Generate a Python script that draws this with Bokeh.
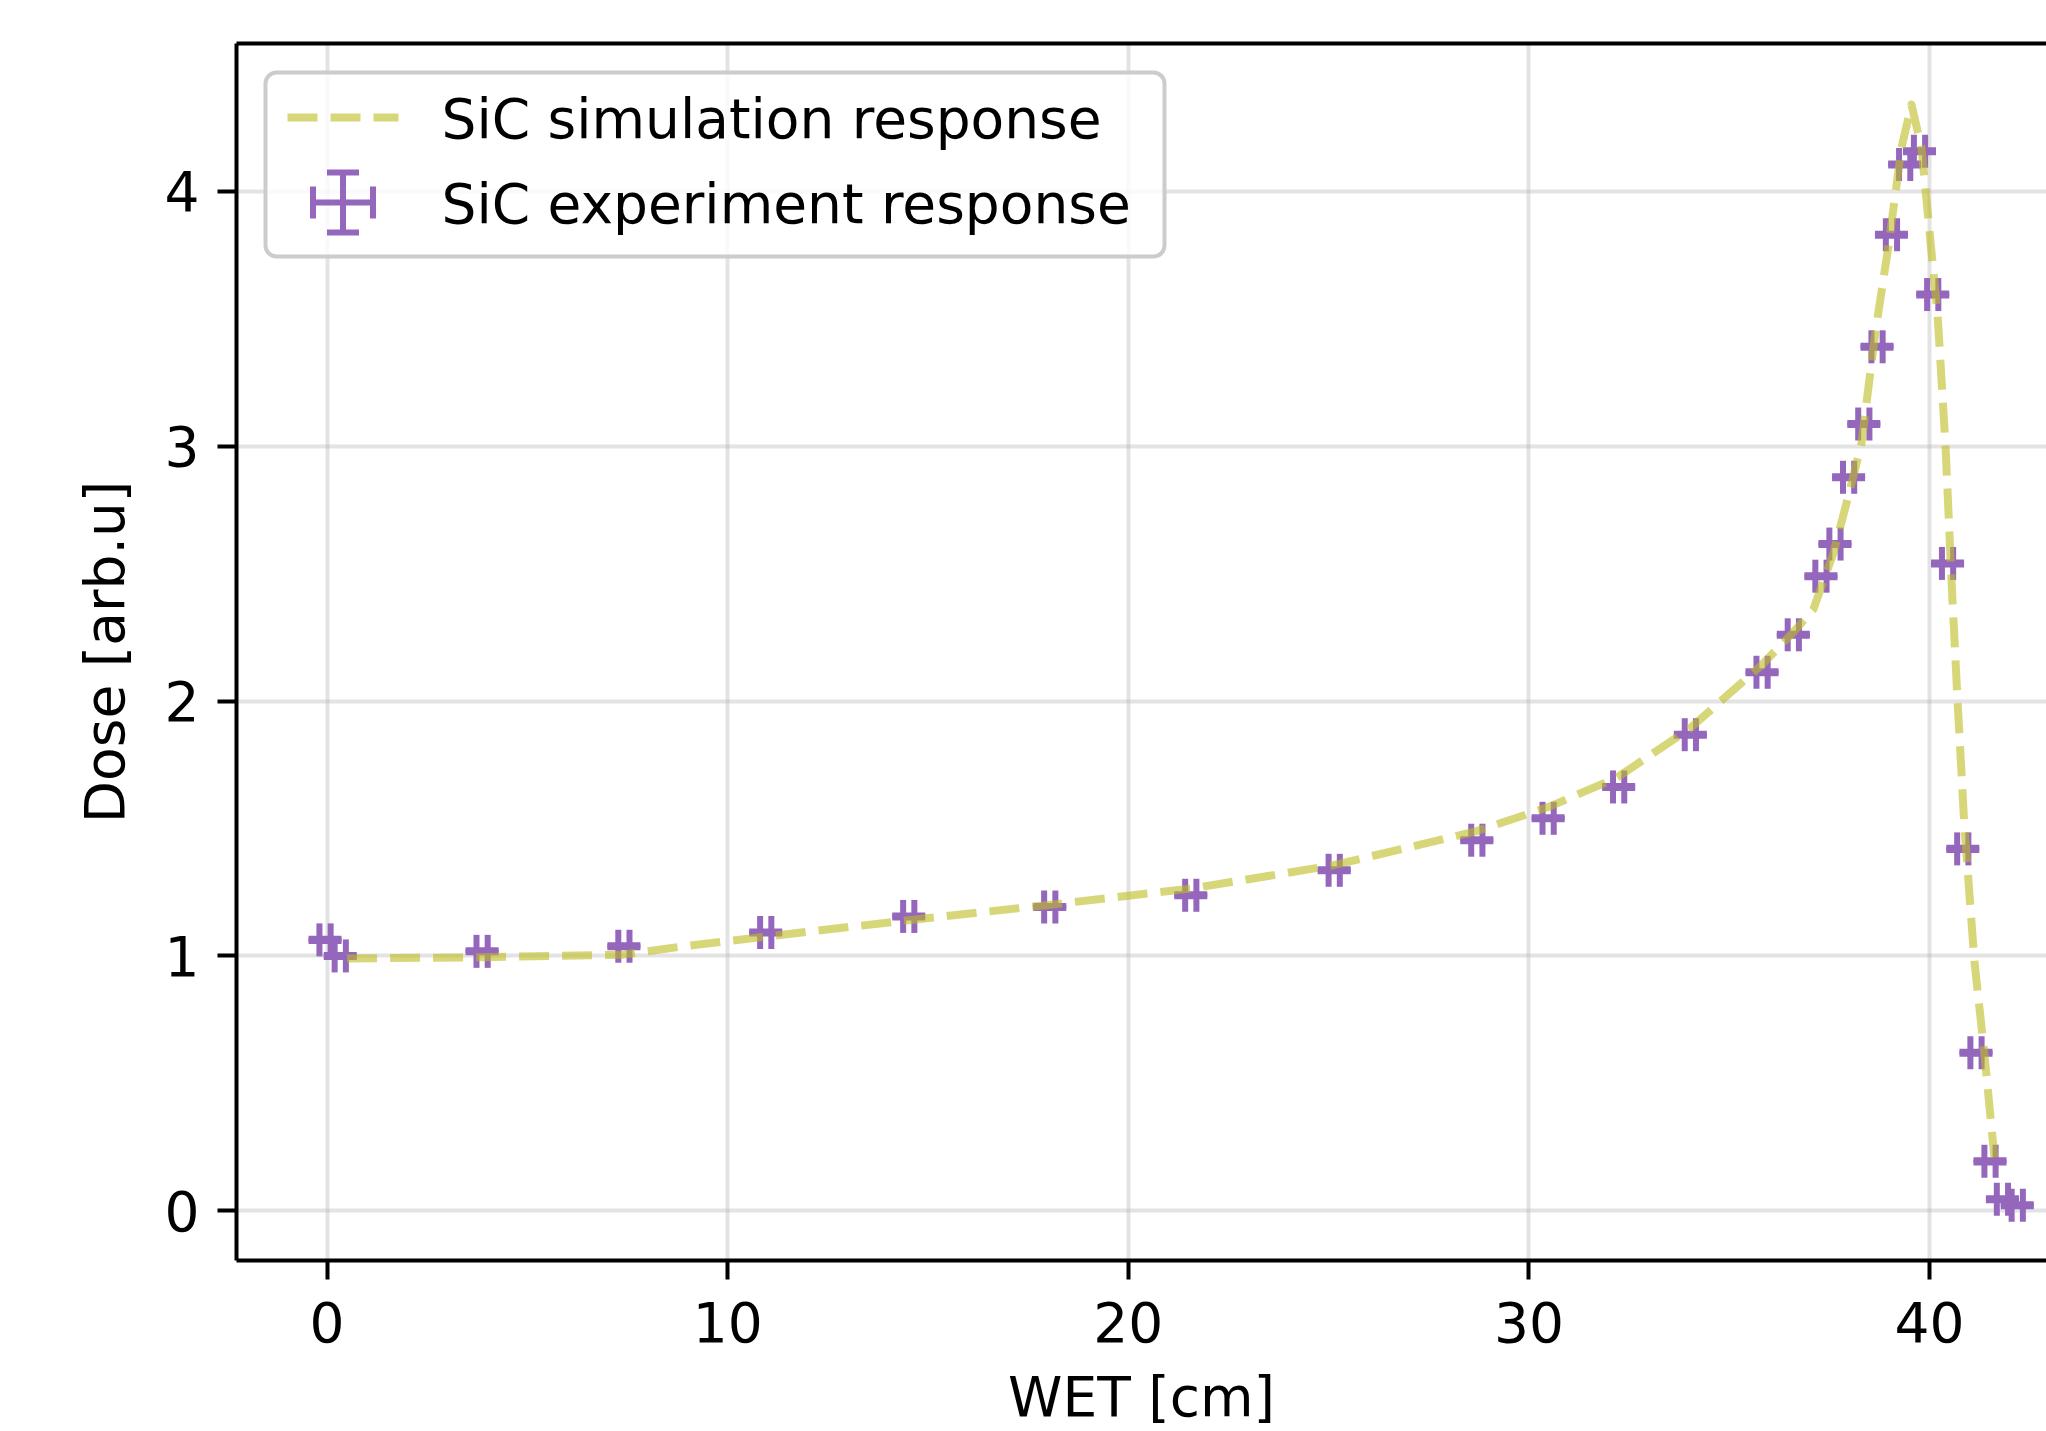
import numpy as np
from bokeh.plotting import figure
from bokeh.models import (ColumnDataSource, Range1d, FixedTicker, LinearAxis,
                          Whisker, TeeHead, BoxAnnotation, Label)
from bokeh.embed import file_html
from bokeh.resources import INLINE

# ---------------- data ----------------
sim_wet = [0.5, 3.9, 7.4, 9.0, 10.9, 14.5, 18.0, 21.6, 25.1, 28.7, 30.5, 32.2,
           34.0, 35.8, 36.6, 37.1, 37.6, 38.0, 38.3, 38.65, 38.97, 39.3, 39.55,
           39.8, 40.05, 40.2, 40.4, 40.55, 40.7, 40.87, 41.12, 41.36, 41.62]
sim_dose = [0.99, 0.995, 1.005, 1.04, 1.075, 1.14, 1.2, 1.265, 1.355, 1.49, 1.585, 1.7,
            1.89, 2.14, 2.27, 2.36, 2.58, 2.82, 3.01, 3.45, 3.78, 4.17, 4.34,
            4.17, 3.76, 3.52, 3.0, 2.47, 2.0, 1.51, 0.98, 0.63, 0.21]

exp_wet = [-0.05, 0.33, 3.87, 7.41, 10.95, 14.52, 18.04, 21.56, 25.14, 28.7,
           30.48, 32.24, 34.03, 35.82, 36.6, 37.29, 37.64, 37.98, 38.36, 38.69,
           39.05, 39.38, 39.75, 40.08, 40.45, 40.83, 41.16, 41.51, 41.82, 42.19]
exp_dose = [1.063, 1.0, 1.018, 1.038, 1.092, 1.155, 1.192, 1.238, 1.336, 1.454,
            1.54, 1.663, 1.868, 2.113, 2.26, 2.49, 2.616, 2.878, 3.087, 3.39,
            3.83, 4.105, 4.157, 3.595, 2.54, 1.42, 0.62, 0.194, 0.045, 0.022]
exp_wet_err = [0.14, 0.14, 0.14, 0.14, 0.14, 0.14, 0.14, 0.14, 0.14, 0.14,
               0.14, 0.14, 0.14, 0.14, 0.14, 0.14, 0.14, 0.14, 0.14, 0.14,
               0.14, 0.14, 0.14, 0.14, 0.14, 0.14, 0.14, 0.14, 0.14, 0.14]
exp_dose_err = [0.004, 0.004, 0.004, 0.004, 0.004, 0.004, 0.004, 0.004, 0.004, 0.004,
                0.004, 0.004, 0.004, 0.004, 0.004, 0.004, 0.004, 0.004, 0.004, 0.004,
                0.004, 0.004, 0.004, 0.004, 0.004, 0.004, 0.004, 0.004, 0.004, 0.004]

x_ticks = [0, 10, 20, 30, 40]
y_ticks = [0, 1, 2, 3, 4]

sim_label = "SiC simulation response"
exp_label = "SiC experiment response"
x_title = "WET [cm]"
y_title = "Dose [arb.u]"

# ---------------- styling ----------------
PURPLE = "#9467bd"
OLIVE = "#bcbd22"
FONT = "DejaVu Sans"
FS = "55px"

W, H = 2046, 1431
BL, BR, BT = 236, 0, 43
BB = H - 1261

p = figure(width=W, height=H, output_backend="svg", toolbar_location=None,
           x_range=Range1d(-2.26, 42.92), y_range=Range1d(-0.195, 4.58),
           min_border_left=BL, min_border_right=BR, min_border_top=BT,
           min_border_bottom=BB)
p.outline_line_color = None
p.background_fill_color = "white"
p.border_fill_color = "white"

# grid
p.xgrid.ticker = FixedTicker(ticks=x_ticks)
p.ygrid.ticker = FixedTicker(ticks=y_ticks)
p.grid.grid_line_color = "#b0b0b0"
p.grid.grid_line_alpha = 0.35
p.grid.grid_line_width = 4

# axes
p.xaxis.ticker = FixedTicker(ticks=x_ticks)
p.yaxis.ticker = FixedTicker(ticks=y_ticks)
for ax in (p.xaxis, p.yaxis):
    ax.axis_line_width = 4
    ax.axis_line_color = "black"
    ax.major_tick_line_width = 4
    ax.major_tick_line_color = "black"
    ax.major_tick_out = 19
    ax.major_tick_in = 0
    ax.minor_tick_line_color = None
    ax.major_label_text_font = FONT
    ax.major_label_text_font_size = FS
    ax.major_label_text_color = "black"
    ax.major_label_standoff = 18
    ax.axis_label_text_font = FONT
    ax.axis_label_text_font_size = FS
    ax.axis_label_text_font_style = "normal"
    ax.axis_label_text_color = "black"
p.xaxis.axis_label = x_title
p.yaxis.axis_label = y_title
p.xaxis.major_label_standoff = 22
p.xaxis.axis_label_standoff = 20
p.yaxis.axis_label_standoff = 25

top_axis = LinearAxis(ticker=FixedTicker(ticks=[]), axis_line_width=4,
                      axis_line_color="black", major_tick_line_color=None,
                      minor_tick_line_color=None, major_label_text_font_size="0px")
p.add_layout(top_axis, "above")

# ---------------- error bars ----------------
xa = np.array(exp_wet)
ya = np.array(exp_dose)
xe = np.array(exp_wet_err)
ye = np.array(exp_dose_err)
src = ColumnDataSource(dict(x=xa, y=ya, xlo=xa - xe, xhi=xa + xe,
                            ylo=ya - ye, yhi=ya + ye))
EW = 6
CAP = 33
p.segment(x0="xlo", y0="y", x1="xhi", y1="y", source=src,
          line_color=PURPLE, line_width=EW)
p.segment(x0="x", y0="ylo", x1="x", y1="yhi", source=src,
          line_color=PURPLE, line_width=EW)
for col in ("xlo", "xhi"):
    p.scatter(x=col, y="y", source=src, marker="dash", angle=np.pi / 2,
              size=CAP, line_color=PURPLE, line_width=EW)
for col in ("ylo", "yhi"):
    p.scatter(x="x", y=col, source=src, marker="dash",
              size=CAP, line_color=PURPLE, line_width=EW)

# ---------------- simulation line ----------------
p.line(sim_wet, sim_dose, line_color=OLIVE, line_alpha=0.6,
       line_width=8, line_dash="30 13", line_join="round")

# ---------------- legend (frame-relative screen units, y measured up from frame bottom) ----
frame_h = 1261 - BT          # frame height in px
def fy(y_from_top):          # convert distance-from-frame-top to screen y
    return frame_h - y_from_top

box = BoxAnnotation(left=29, right=928, top=fy(30), bottom=fy(214),
                    left_units="screen", right_units="screen",
                    top_units="screen", bottom_units="screen",
                    fill_color="white", fill_alpha=0.8,
                    line_color="#cccccc", line_alpha=1.0, line_width=4,
                    level="underlay")
if "border_radius" in BoxAnnotation.properties():
    box.border_radius = 11
p.add_layout(box)

row1, row2 = 75, 160             # icon centre rows (from frame top)
icon_x0, icon_x1 = 51, 162       # handle extent
icon_cx = (icon_x0 + icon_x1) / 2
half = 30

icon_src = ColumnDataSource(dict(
    lb=[fy(row1)], lx0=[icon_x0], lx1=[icon_x1],
    hb=[fy(row2)], hx0=[icon_cx - half], hx1=[icon_cx + half],
    vb=[icon_cx], vy0=[fy(row2) - half], vy1=[fy(row2) + half]))

p.add_layout(Whisker(source=icon_src, dimension="width", level="annotation",
                     base="lb", lower="lx0", upper="lx1",
                     base_units="screen", lower_units="screen", upper_units="screen",
                     line_color=OLIVE, line_alpha=0.6, line_width=8,
                     line_dash="30 13", upper_head=None, lower_head=None))
for dim, base, lo, up in (("width", "hb", "hx0", "hx1"), ("height", "vb", "vy0", "vy1")):
    p.add_layout(Whisker(source=icon_src, dimension=dim, level="annotation",
                         base=base, lower=lo, upper=up,
                         base_units="screen", lower_units="screen", upper_units="screen",
                         line_color=PURPLE, line_width=EW,
                         upper_head=TeeHead(size=32, line_color=PURPLE, line_width=EW),
                         lower_head=TeeHead(size=32, line_color=PURPLE, line_width=EW)))

for txt, base_y in ((sim_label, 76), (exp_label, 161.5)):
    p.add_layout(Label(x=205, y=fy(base_y), x_units="screen", y_units="screen",
                       text=txt, text_font=FONT, text_font_size=FS,
                       text_color="black", text_align="left",
                       text_baseline="alphabetic", level="annotation"))

open("out.html", "w").write(file_html(p, INLINE))
